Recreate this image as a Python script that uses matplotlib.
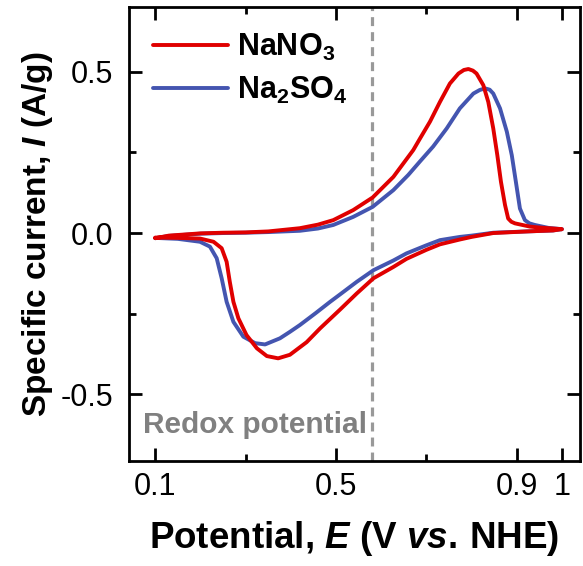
import numpy as np
import matplotlib
matplotlib.use("Agg")
import matplotlib.pyplot as plt
from matplotlib.ticker import FixedLocator

plt.rcParams['font.family'] = ['Liberation Sans', 'DejaVu Sans']
plt.rcParams['mathtext.fontset'] = 'custom'
plt.rcParams['mathtext.rm'] = 'Liberation Sans:bold'
plt.rcParams['mathtext.bf'] = 'Liberation Sans:bold'
plt.rcParams['mathtext.it'] = 'Liberation Sans:italic:bold'
plt.rcParams['axes.unicode_minus'] = False

# NaNO3 loop: anodic scan 0.1 -> 1.0 V, then back to 0.1 V
E_nano3 = [0.10, 0.13, 0.17, 0.20, 0.25, 0.30, 0.35, 0.42, 0.46, 0.494, 0.538, 0.581, 0.627,
           0.671, 0.686, 0.708, 0.730, 0.752, 0.771, 0.783, 0.793, 0.803, 0.811, 0.826, 0.837,
           0.848, 0.857, 0.865, 0.874, 0.881, 0.888, 0.896, 0.929, 0.951, 0.98, 1.00,
           0.98, 0.922, 0.848, 0.80, 0.774, 0.73, 0.70, 0.656, 0.627, 0.583, 0.546, 0.509,
           0.487, 0.465, 0.435, 0.398, 0.372, 0.347, 0.325, 0.302, 0.284, 0.273, 0.265,
           0.258, 0.247, 0.229, 0.199, 0.15, 0.10]
I_nano3 = [-0.016, -0.008, -0.004, -0.001, 0.001, 0.002, 0.005, 0.015, 0.026, 0.040, 0.071, 0.110, 0.174,
           0.257, 0.293, 0.345, 0.406, 0.463, 0.494, 0.505, 0.508, 0.503, 0.494, 0.458, 0.406,
           0.324, 0.241, 0.159, 0.087, 0.045, 0.035, 0.030, 0.020, 0.017, 0.014, 0.012,
           0.008, 0.005, 0.0, -0.012, -0.020, -0.035, -0.052, -0.080, -0.105, -0.140, -0.187, -0.237,
           -0.266, -0.295, -0.338, -0.377, -0.388, -0.381, -0.357, -0.316, -0.264, -0.213, -0.151,
           -0.089, -0.047, -0.027, -0.017, -0.015, -0.014]

# Na2SO4 loop
E_na2so4 = [0.10, 0.13, 0.17, 0.20, 0.25, 0.30, 0.35, 0.42, 0.46, 0.494, 0.538, 0.581, 0.627,
            0.660, 0.686, 0.715, 0.745, 0.774, 0.804, 0.818, 0.830, 0.840, 0.848, 0.863, 0.878,
            0.889, 0.898, 0.907, 0.918, 0.928, 0.940, 0.97, 1.00,
            0.98, 0.922, 0.848, 0.80, 0.774, 0.73, 0.70, 0.656, 0.627, 0.583, 0.546, 0.509,
            0.487, 0.455, 0.420, 0.398, 0.376, 0.343, 0.321, 0.295, 0.273, 0.258, 0.247,
            0.236, 0.221, 0.199, 0.15, 0.10]
I_na2so4 = [-0.016, -0.009, -0.005, -0.002, 0.0, 0.001, 0.003, 0.007, 0.014, 0.025, 0.050, 0.081, 0.133,
            0.180, 0.222, 0.268, 0.324, 0.386, 0.432, 0.443, 0.448, 0.444, 0.432, 0.386, 0.314,
            0.241, 0.159, 0.076, 0.040, 0.030, 0.025, 0.016, 0.012,
            0.008, 0.005, 0.001, -0.008, -0.012, -0.022, -0.038, -0.063, -0.085, -0.115, -0.151, -0.190,
            -0.213, -0.248, -0.285, -0.306, -0.326, -0.345, -0.341, -0.321, -0.275, -0.213, -0.140,
            -0.078, -0.042, -0.027, -0.018, -0.015]

labels = ['NaNO$_3$', 'Na$_2$SO$_4$']
colors = ['#e00000', '#4455b0']
redox_E = 0.58

x_major = [0.1, 0.5, 0.9, 1.0]
x_major_labels = ['0.1', '0.5', '0.9', '1']
x_minor = [0.3, 0.7]
y_major = [-0.5, 0.0, 0.5]
y_major_labels = ['-0.5', '0.0', '0.5']
y_minor = [-0.25, 0.25]

fig = plt.figure(figsize=(5.83, 5.66), dpi=100)
ax = fig.add_axes([0.2213, 0.1855, 0.7736, 0.8021])

ax.plot(E_na2so4, I_na2so4, color=colors[1], lw=2.8, label=labels[1],
        solid_joinstyle='round', solid_capstyle='round', zorder=2)
ax.plot(E_nano3, I_nano3, color=colors[0], lw=2.8, label=labels[0],
        solid_joinstyle='round', solid_capstyle='round', zorder=3)

ax.axvline(redox_E, color='#999999', lw=2.3, ls=(0, (2.8, 1.9)), zorder=1)
ax.text(0.073, -0.594, 'Redox potential', color='#808080', fontsize=21.5,
        fontweight='bold', va='center')

ax.set_xlim(0.042, 1.04)
ax.set_ylim(-0.706, 0.70)

ax.xaxis.set_major_locator(FixedLocator(x_major))
ax.xaxis.set_minor_locator(FixedLocator(x_minor))
ax.set_xticklabels(x_major_labels)
ax.yaxis.set_major_locator(FixedLocator(y_major))
ax.yaxis.set_minor_locator(FixedLocator(y_minor))
ax.set_yticklabels(y_major_labels)

ax.tick_params(which='both', direction='in', top=True, right=True, width=2, labelsize=22)
ax.tick_params(axis='x', which='both', pad=8)
ax.tick_params(axis='y', which='both', pad=11.5)
ax.tick_params(which='major', length=9.5)
ax.tick_params(which='minor', length=5)
for s in ax.spines.values():
    s.set_linewidth(2)

ax.set_xlabel('Potential, $\\mathit{E}$ (V $\\mathit{vs.}\\,$NHE)', fontsize=26.5, fontweight='bold', labelpad=12)
ax.set_ylabel('Specific current, $\\mathit{I}$ (A/g)', fontsize=24, fontweight='bold', labelpad=4)

handles, lbls = ax.get_legend_handles_labels()
leg = ax.legend(handles[::-1], lbls[::-1], loc='upper left', frameon=False, fontsize=22,
                handlelength=2.45, handletextpad=0.3, labelspacing=0.4, borderaxespad=0.4)
for t in leg.get_texts():
    t.set_fontweight('bold')

fig.savefig('out.png', dpi=100)
